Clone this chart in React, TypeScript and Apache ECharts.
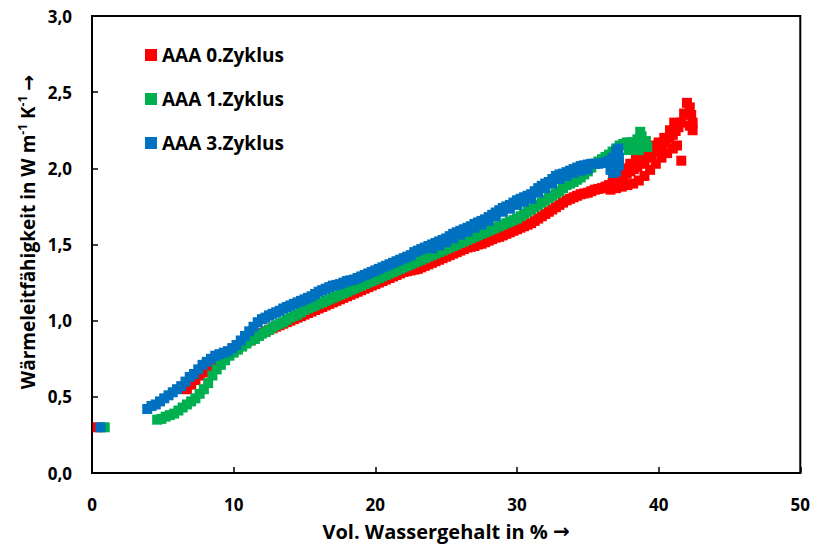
import { useEffect, useRef } from "react";
import * as echarts from "echarts";

const seriesNames = ["AAA 0.Zyklus", "AAA 1.Zyklus", "AAA 3.Zyklus"];
const seriesColors = ["#FF0000", "#00B050", "#0070C0"];

const xAxisTitle = "Vol. Wassergehalt in % {r|→}";
const yAxisTitle = "{a|Wärmeleitfähigkeit in W m}{s|-1}{a| K}{s|-1}{a| }{r|→}";

// AAA 0.Zyklus [water content %, conductivity]
const redPoints: number[][] = [
  [0.4, 0.3],
  [6.7, 0.55], [7.0, 0.58], [7.3, 0.61], [7.6, 0.64], [7.9, 0.66], [8.2, 0.69], [8.5, 0.71],
  [8.8, 0.73], [9.1, 0.75], [9.4, 0.77], [9.7, 0.79], [10.0, 0.8], [10.3, 0.82], [10.6, 0.84],
  [10.9, 0.86], [11.2, 0.87], [11.6, 0.9],
  [12.0, 0.92], [12.25, 0.93], [12.5, 0.94], [12.75, 0.95], [13.0, 0.96], [13.25, 0.97], [13.5, 0.98],
  [13.75, 0.99], [14.0, 1.0], [14.25, 1.01], [14.5, 1.02], [14.75, 1.03], [15.0, 1.04], [15.25, 1.05],
  [15.5, 1.06], [15.75, 1.07], [16.0, 1.08], [16.25, 1.09], [16.5, 1.1], [16.75, 1.11], [17.0, 1.12],
  [17.25, 1.13], [17.5, 1.14], [17.75, 1.15], [18.0, 1.16], [18.25, 1.17], [18.5, 1.18], [18.75, 1.19],
  [19.0, 1.2], [19.25, 1.21], [19.5, 1.22], [19.75, 1.23], [20.0, 1.24], [20.25, 1.25], [20.5, 1.26],
  [20.75, 1.27], [21.0, 1.28], [21.25, 1.29], [21.5, 1.3], [21.75, 1.31], [22.0, 1.32], [22.25, 1.325],
  [22.5, 1.33], [22.75, 1.335], [23.0, 1.34], [23.25, 1.35], [23.5, 1.36], [23.75, 1.37], [24.0, 1.38],
  [24.25, 1.39], [24.5, 1.4], [24.75, 1.41], [25.0, 1.42], [25.25, 1.43], [25.5, 1.44], [25.75, 1.45],
  [26.0, 1.46], [26.25, 1.47], [26.5, 1.48], [26.75, 1.485], [27.0, 1.49], [27.25, 1.5], [27.5, 1.505],
  [27.75, 1.515], [28.0, 1.525], [28.25, 1.535], [28.5, 1.545], [28.75, 1.55], [29.0, 1.56], [29.25, 1.57],
  [29.5, 1.58], [29.75, 1.59], [30.0, 1.6], [30.25, 1.61], [30.5, 1.62], [30.75, 1.63], [31.0, 1.64],
  [31.25, 1.655], [31.5, 1.67], [31.75, 1.685], [32.0, 1.7], [32.25, 1.715], [32.5, 1.73], [32.75, 1.745],
  [33.0, 1.76], [33.25, 1.775], [33.5, 1.79], [33.75, 1.8], [34.0, 1.81], [34.25, 1.82], [34.5, 1.83],
  [34.75, 1.835], [35.0, 1.84], [35.25, 1.85], [35.5, 1.86], [35.75, 1.865], [36.0, 1.87], [36.25, 1.88],
  [36.5, 1.89], [36.75, 1.905], [37.0, 1.92], [37.25, 1.935], [37.5, 1.95], [37.75, 1.965], [38.0, 1.98],
  [38.25, 1.995], [38.5, 2.01], [38.75, 2.03], [39.0, 2.05], [39.25, 2.07], [39.5, 2.09], [39.75, 2.11],
  [40.0, 2.13], [40.25, 2.15], [40.5, 2.17], [40.75, 2.195], [41.0, 2.22], [41.2, 2.245], [41.4, 2.27],
  [41.6, 2.3], [41.8, 2.36], [42.0, 2.43], [42.2, 2.4], [42.3, 2.35], [42.4, 2.3], [42.4, 2.25],
  [42.2, 2.28], [41.6, 2.05],
  // upper scatter
  [36.8, 1.94], [37.2, 1.97], [37.6, 2.0], [38.0, 2.03], [38.4, 2.06], [38.8, 2.09], [39.2, 2.12],
  [39.6, 2.15], [40.0, 2.17], [40.4, 2.2], [40.8, 2.25], [41.1, 2.3],
  // lower scatter
  [36.6, 1.86], [37.0, 1.87], [37.4, 1.88], [37.8, 1.89], [38.2, 1.9], [38.6, 1.92], [39.0, 1.95],
  [39.4, 1.99], [39.8, 2.03], [40.2, 2.07], [40.6, 2.1], [41.0, 2.13], [41.3, 2.15],
];

// AAA 1.Zyklus
const greenPoints: number[][] = [
  [0.9, 0.3],
  [4.6, 0.35], [4.9, 0.355], [5.2, 0.37], [5.5, 0.38], [5.8, 0.39], [6.1, 0.41], [6.4, 0.43],
  [6.7, 0.45], [7.0, 0.47], [7.3, 0.49], [7.6, 0.52], [7.9, 0.55], [8.2, 0.59], [8.5, 0.64],
  [8.8, 0.68], [9.1, 0.71], [9.4, 0.74], [9.7, 0.77], [10.0, 0.79], [10.3, 0.81], [10.6, 0.83],
  [10.9, 0.85], [11.2, 0.87], [11.5, 0.88], [11.8, 0.9],
  [12.0, 0.915], [12.25, 0.925], [12.5, 0.94], [12.75, 0.955], [13.0, 0.97], [13.25, 0.98], [13.5, 0.99],
  [13.75, 1.005], [14.0, 1.02], [14.25, 1.03], [14.5, 1.04], [14.75, 1.055], [15.0, 1.07], [15.25, 1.08],
  [15.5, 1.09], [15.75, 1.1], [16.0, 1.11], [16.25, 1.12], [16.5, 1.13], [16.75, 1.14], [17.0, 1.15],
  [17.25, 1.16], [17.5, 1.17], [17.75, 1.18], [18.0, 1.19], [18.25, 1.2], [18.5, 1.21], [18.75, 1.22],
  [19.0, 1.23], [19.25, 1.24], [19.5, 1.25], [19.75, 1.26], [20.0, 1.27], [20.25, 1.28], [20.5, 1.29],
  [20.75, 1.3], [21.0, 1.31], [21.25, 1.32], [21.5, 1.33], [21.75, 1.34], [22.0, 1.35], [22.25, 1.36],
  [22.5, 1.37], [22.75, 1.38], [23.0, 1.39], [23.25, 1.4], [23.5, 1.41], [23.75, 1.42], [24.0, 1.43],
  [24.25, 1.44], [24.5, 1.45], [24.75, 1.46], [25.0, 1.47], [25.25, 1.48], [25.5, 1.49], [25.75, 1.5],
  [26.0, 1.51], [26.25, 1.52], [26.5, 1.53], [26.75, 1.54], [27.0, 1.55], [27.25, 1.56], [27.5, 1.57],
  [27.75, 1.58], [28.0, 1.59], [28.25, 1.6], [28.5, 1.61], [28.75, 1.62], [29.0, 1.63], [29.25, 1.64],
  [29.5, 1.65], [29.75, 1.66], [30.0, 1.67], [30.25, 1.685], [30.5, 1.7], [30.75, 1.715], [31.0, 1.73],
  [31.25, 1.745], [31.5, 1.76], [31.75, 1.775], [32.0, 1.79], [32.25, 1.805], [32.5, 1.82], [32.75, 1.835],
  [33.0, 1.85], [33.25, 1.87], [33.5, 1.89], [33.75, 1.9], [34.0, 1.91], [34.25, 1.925], [34.5, 1.94],
  [34.75, 1.96], [35.0, 1.98], [35.25, 2.005], [35.5, 2.03], [35.75, 2.045], [36.0, 2.06], [36.25, 2.075],
  [36.5, 2.09], [36.75, 2.11], [37.0, 2.13], [37.25, 2.15], [37.5, 2.16], [37.75, 2.17], [38.0, 2.17],
  [38.25, 2.17], [38.5, 2.19], [38.7, 2.24], [38.8, 2.21], [38.9, 2.15], [39.1, 2.18], [39.2, 2.14],
  [38.6, 2.12], [38.3, 2.12], [37.9, 2.12],
];

// AAA 3.Zyklus
const bluePoints: number[][] = [
  [0.6, 0.3],
  [3.9, 0.42], [4.2, 0.44], [4.5, 0.45], [4.8, 0.47], [5.1, 0.49], [5.4, 0.51], [5.7, 0.53],
  [6.0, 0.55], [6.3, 0.57], [6.6, 0.6], [6.9, 0.63], [7.2, 0.65], [7.5, 0.68], [7.8, 0.71],
  [8.1, 0.73], [8.4, 0.75], [8.7, 0.77], [9.0, 0.78], [9.3, 0.79], [9.6, 0.8], [9.9, 0.82],
  [10.2, 0.84], [10.5, 0.87], [10.8, 0.9], [11.1, 0.93], [11.4, 0.96], [11.7, 0.99],
  [12.0, 1.01], [12.25, 1.02], [12.5, 1.035], [12.75, 1.045], [13.0, 1.055], [13.25, 1.065], [13.5, 1.08],
  [13.75, 1.09], [14.0, 1.1], [14.25, 1.11], [14.5, 1.12], [14.75, 1.13], [15.0, 1.14], [15.25, 1.15],
  [15.5, 1.16], [15.75, 1.175], [16.0, 1.19], [16.25, 1.2], [16.5, 1.21], [16.75, 1.22], [17.0, 1.23],
  [17.25, 1.235], [17.5, 1.24], [17.75, 1.25], [18.0, 1.26], [18.25, 1.265], [18.5, 1.27], [18.75, 1.28],
  [19.0, 1.29], [19.25, 1.3], [19.5, 1.31], [19.75, 1.32], [20.0, 1.33], [20.25, 1.34], [20.5, 1.35],
  [20.75, 1.36], [21.0, 1.37], [21.25, 1.38], [21.5, 1.39], [21.75, 1.4], [22.0, 1.41], [22.25, 1.42],
  [22.5, 1.43], [22.75, 1.45], [23.0, 1.46], [23.25, 1.47], [23.5, 1.48], [23.75, 1.49], [24.0, 1.5],
  [24.25, 1.51], [24.5, 1.52], [24.75, 1.53], [25.0, 1.54], [25.25, 1.555], [25.5, 1.57], [25.75, 1.58],
  [26.0, 1.59], [26.25, 1.6], [26.5, 1.61], [26.75, 1.62], [27.0, 1.635], [27.25, 1.645], [27.5, 1.655],
  [27.75, 1.665], [28.0, 1.68], [28.25, 1.695], [28.5, 1.71], [28.75, 1.725], [29.0, 1.74], [29.25, 1.75],
  [29.5, 1.76], [29.75, 1.775], [30.0, 1.79], [30.25, 1.8], [30.5, 1.81], [30.75, 1.82], [31.0, 1.83],
  [31.25, 1.85], [31.5, 1.87], [31.75, 1.885], [32.0, 1.9], [32.25, 1.91], [32.5, 1.93], [32.75, 1.95],
  [33.0, 1.96], [33.25, 1.965], [33.5, 1.975], [33.75, 1.985], [34.0, 1.995], [34.25, 2.005], [34.5, 2.015],
  [34.75, 2.02], [35.0, 2.025], [35.25, 2.03], [35.5, 2.03], [35.75, 2.03], [36.0, 2.035], [36.25, 2.04],
  [36.5, 2.05], [36.75, 2.07], [37.0, 2.11], [37.15, 2.13], [37.2, 2.07], [37.2, 2.02], [37.0, 1.98],
  [36.8, 1.97], [36.6, 1.99],
  // lower scatter
  [24.0, 1.475], [24.5, 1.495], [25.0, 1.515], [25.5, 1.54], [26.0, 1.565], [26.5, 1.585],
  [27.0, 1.61], [27.5, 1.63], [28.0, 1.655], [28.5, 1.685], [29.0, 1.715], [29.5, 1.735],
  [30.0, 1.76], [30.5, 1.78], [31.0, 1.8], [31.5, 1.84], [32.0, 1.87], [32.5, 1.9], [33.0, 1.93],
  [33.5, 1.95], [34.0, 1.97], [34.5, 1.985], [35.0, 1.995],
];

const allPoints = [redPoints, greenPoints, bluePoints];

const FONT = "Open Sans";
const ARROW_FONT = "DejaVu Sans";

export default function App() {
  const ref = useRef<HTMLDivElement>(null);
  useEffect(() => {
    if (!ref.current) return;
    const chart = echarts.init(ref.current, null, { renderer: "svg" });
    chart.setOption({
      animation: false,
      backgroundColor: "#ffffff",
      textStyle: { fontFamily: FONT },
      grid: {
        left: 92,
        right: 9,
        top: 16,
        bottom: 73,
        show: true,
        borderColor: "#000000",
        borderWidth: 2,
        backgroundColor: "transparent",
      },
      legend: {
        orient: "vertical",
        left: 140,
        top: 39,
        itemWidth: 12,
        itemHeight: 12,
        itemGap: 22,
        icon: "rect",
        data: seriesNames,
        textStyle: {
          fontFamily: FONT,
          fontWeight: "bold",
          fontSize: 19,
          color: "#000000",
          lineHeight: 22,
        },
      },
      xAxis: {
        type: "value",
        min: 0,
        max: 50,
        interval: 10,
        name: xAxisTitle,
        nameLocation: "middle",
        nameGap: 48,
        nameTextStyle: {
          fontFamily: FONT,
          fontWeight: "bold",
          fontSize: 20,
          color: "#000",
          rich: {
            r: { fontFamily: ARROW_FONT, fontWeight: "bold", fontSize: 20, color: "#000" },
          },
        },
        axisLine: { show: true, lineStyle: { color: "#000", width: 2 } },
        axisTick: { show: true, inside: true, length: 6, lineStyle: { color: "#000", width: 1.5 } },
        axisLabel: {
          margin: 23,
          fontFamily: FONT,
          fontWeight: "bold",
          fontSize: 17,
          color: "#000",
        },
        splitLine: { show: false },
      },
      yAxis: {
        type: "value",
        min: 0,
        max: 3,
        interval: 0.5,
        axisLine: { show: true, lineStyle: { color: "#000", width: 2 } },
        axisTick: { show: true, inside: true, length: 6, lineStyle: { color: "#000", width: 1.5 } },
        axisLabel: {
          margin: 20,
          fontFamily: FONT,
          fontWeight: "bold",
          fontSize: 17,
          color: "#000",
          formatter: (v: number) => v.toFixed(1).replace(".", ","),
        },
        splitLine: { show: false },
      },
      graphic: [
        {
          type: "text",
          x: 28,
          y: 232,
          rotation: Math.PI / 2,
          style: {
            text: yAxisTitle,
            align: "center",
            verticalAlign: "middle",
            fill: "#000",
            rich: {
              a: { fontFamily: FONT, fontWeight: "bold", fontSize: 19, lineHeight: 24, fill: "#000" },
              s: {
                fontFamily: FONT,
                fontWeight: "bold",
                fontSize: 12,
                lineHeight: 13,
                verticalAlign: "top",
                fill: "#000",
              },
              r: { fontFamily: ARROW_FONT, fontWeight: "bold", fontSize: 19, lineHeight: 24, fill: "#000" },
            },
          },
        },
      ],
      series: seriesNames.map((name, i) => ({
        name,
        type: "scatter",
        symbol: "rect",
        symbolSize: 10,
        itemStyle: { color: seriesColors[i], opacity: 1 },
        emphasis: { disabled: true },
        silent: true,
        data: allPoints[i],
        z: 2 + i,
      })),
    });
    return () => chart.dispose();
  }, []);
  return (
    <div
      ref={ref}
      style={{ position: "fixed", left: 0, top: 0, width: 813, height: 546 }}
    />
  );
}
